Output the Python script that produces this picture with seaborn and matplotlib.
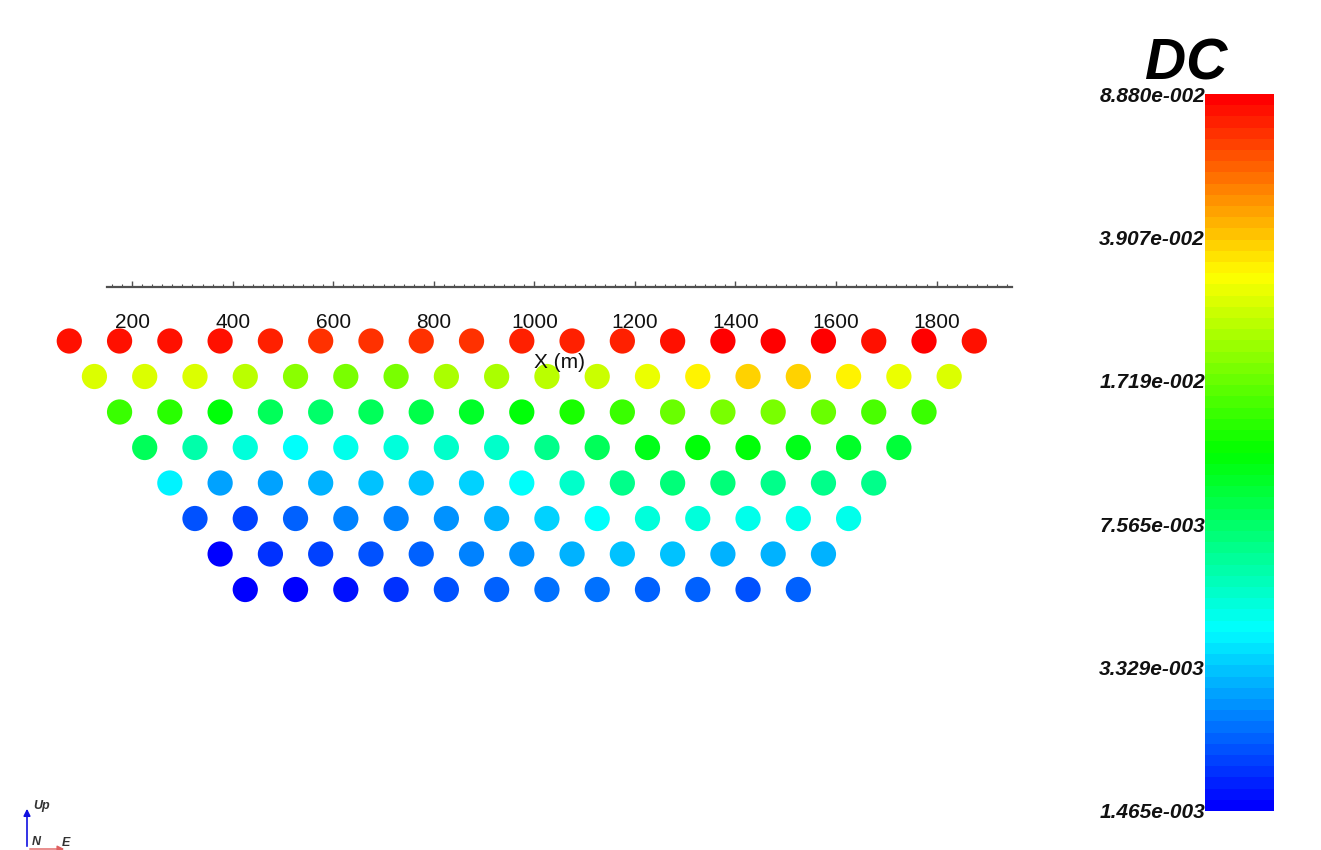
import colorsys

import matplotlib.pyplot as plt
import numpy as np
import pandas as pd
import seaborn as sns
from matplotlib.cm import ScalarMappable
from matplotlib.colors import ListedColormap, LogNorm


W, H = 1321, 850

# pseudosection: one list per level, left to right
ROW_START = [75, 125, 175, 225, 275, 325, 375, 425]  # x of first point (m)
STEP = 100  # spacing between points on a level (m)
DC_ROWS = [
    [0.0801, 0.0801, 0.0815, 0.0815, 0.0761, 0.0723, 0.0723, 0.0723, 0.0723, 0.0774,
     0.0774, 0.0761, 0.0801, 0.0873, 0.0885, 0.0885, 0.0815, 0.0836, 0.0815],
    [0.0278, 0.0278, 0.0278, 0.0246, 0.0201, 0.0184, 0.0184, 0.0218, 0.0226, 0.0246,
     0.0255, 0.0292, 0.0338, 0.0365, 0.0365, 0.0324, 0.0292, 0.0278],
    [0.0145, 0.0133, 0.0114, 0.00824, 0.00757, 0.00796, 0.00868, 0.00978, 0.0114,
     0.0129, 0.0145, 0.0172, 0.0184, 0.0184, 0.0172, 0.0150, 0.0145],
    [0.00824, 0.00595, 0.00469, 0.00409, 0.00437, 0.00469, 0.00511, 0.00528, 0.00671,
     0.00824, 0.01011, 0.0114, 0.0114, 0.01047, 0.00978, 0.00898],
    [0.00385, 0.00285, 0.00285, 0.00300, 0.00321, 0.00321, 0.00338, 0.00409, 0.00511,
     0.00649, 0.00707, 0.00707, 0.00671, 0.00649, 0.00671],
    [0.00206, 0.00190, 0.00219, 0.00249, 0.00253, 0.00266, 0.00300, 0.00338, 0.00409,
     0.00469, 0.00469, 0.00453, 0.00453, 0.00453],
    [0.00148, 0.00186, 0.00194, 0.00210, 0.00225, 0.00258, 0.00266, 0.00300, 0.00321,
     0.00321, 0.00300, 0.00300, 0.00300],
    [0.00148, 0.00156, 0.00165, 0.00180, 0.00203, 0.00229, 0.00232, 0.00236, 0.00229,
     0.00219, 0.00213, 0.00219],
]

X_TICKS = [200, 400, 600, 800, 1000, 1200, 1400, 1600, 1800]
X_TICK_LABELS = ["200", "400", "600", "800", "1000", "1200", "1400", "1600", "1800"]

DC_MIN, DC_MAX = 1.465e-3, 8.880e-2
CB_TICKS = [1.465e-3, 3.329e-3, 7.565e-3, 1.719e-2, 3.907e-2, 8.880e-2]
CB_LABELS = ["1.465e-003", "3.329e-003", "7.565e-003", "1.719e-002", "3.907e-002", "8.880e-002"]

N_BANDS = 64
FONT = "Liberation Sans"


def px_box(x0, y0, x1, y1):
    return [x0 / W, 1 - y1 / H, (x1 - x0) / W, (y1 - y0) / H]


def blue_to_red(n):
    hues = np.linspace(240 / 360, 0, n)
    return ListedColormap([colorsys.hsv_to_rgb(h, 1, 1) for h in hues])


def build_frame():
    rows = []
    for level, (start, vals) in enumerate(zip(ROW_START, DC_ROWS), start=1):
        for i, v in enumerate(vals):
            rows.append({"x": start + i * STEP, "level": level, "dc": v})
    return pd.DataFrame(rows)


def main():
    sns.set_theme(style="white")
    plt.rcParams["font.family"] = [FONT, "DejaVu Sans"]

    cmap = blue_to_red(N_BANDS)
    norm = LogNorm(vmin=DC_MIN, vmax=DC_MAX)
    df = build_frame()

    fig = plt.figure(figsize=(W / 100, H / 100), dpi=100)
    fig.patch.set_facecolor("white")

    ax = fig.add_axes(px_box(107, 287, 1012, 610))
    sns.scatterplot(
        data=df, x="x", y="level", hue="dc", palette=cmap, hue_norm=norm,
        s=330, linewidth=0, legend=False, ax=ax, clip_on=False,
    )
    ax.set_xlim(150, 1950)
    ax.set_ylim(8.577, -0.521)
    ax.set_facecolor("none")
    for side in ("left", "right", "bottom"):
        ax.spines[side].set_visible(False)
    ax.spines["top"].set_color("#505050")
    ax.spines["top"].set_linewidth(1.6)

    ax.xaxis.set_ticks_position("top")
    ax.set_xticks(X_TICKS)
    ax.set_xticks(np.arange(160, 1950, 20), minor=True)
    ax.tick_params(axis="x", which="major", direction="out", length=4.5, width=1,
                   color="#505050", labeltop=False, labelbottom=False)
    ax.tick_params(axis="x", which="minor", direction="out", length=2.5, width=0.8,
                   color="#505050")
    ax.set_yticks([])
    ax.set_xlabel("")
    ax.set_ylabel("")

    for v, lab in zip(X_TICKS, X_TICK_LABELS):
        ax.annotate(lab, xy=(v, 1), xycoords=("data", "axes fraction"),
                    xytext=(0, -35), textcoords="offset pixels",
                    ha="center", va="center", fontsize=15, color="#111111")
    ax.annotate("X (m)", xy=(0.5, 1), xycoords="axes fraction",
                xytext=(0, -75), textcoords="offset pixels",
                ha="center", va="center", fontsize=15, color="#111111")

    # colour bar
    cax = fig.add_axes(px_box(1205, 94, 1274, 811))
    sm = ScalarMappable(norm=norm, cmap=cmap)
    cbar = fig.colorbar(sm, cax=cax)
    cbar.outline.set_visible(False)
    cax.minorticks_off()
    cax.yaxis.set_ticks_position("left")
    cax.set_yticks(CB_TICKS)
    cax.set_yticklabels(CB_LABELS)
    cax.tick_params(axis="y", length=0, pad=0, labelsize=15)
    for t in cax.get_yticklabels():
        t.set_fontstyle("italic")
        t.set_fontweight("bold")
        t.set_color("#111111")

    fig.text(1186 / W, 1 - 80 / H, "DC", ha="center", va="baseline",
             fontsize=41, fontweight="bold", fontstyle="italic", color="black")

    # orientation marker, bottom left
    ox, oy = 27, H - 849
    ax_kw = dict(xycoords="figure pixels", textcoords="figure pixels")
    ax.annotate("", xy=(ox, H - 806), xytext=(ox, oy),
                arrowprops=dict(arrowstyle="-|>", color="#1010e0", lw=1.2,
                                mutation_scale=10), **ax_kw)
    ax.annotate("", xy=(ox + 40, oy), xytext=(ox, oy),
                arrowprops=dict(arrowstyle="-|>", color="#e06060", lw=1.0,
                                mutation_scale=10), **ax_kw)
    fig.text(33 / W, 1 - 806 / H, "Up", fontsize=9, fontstyle="italic",
             fontweight="bold", color="#333333", va="center")
    fig.text(32 / W, 1 - 842 / H, "N", fontsize=9, fontstyle="italic",
             fontweight="bold", color="#333333", va="center")
    fig.text(62 / W, 1 - 843 / H, "E", fontsize=9, fontstyle="italic",
             fontweight="bold", color="#333333", va="center")

    fig.savefig("out.png", dpi=100, facecolor="white")
    plt.close(fig)


if __name__ == "__main__":
    main()
